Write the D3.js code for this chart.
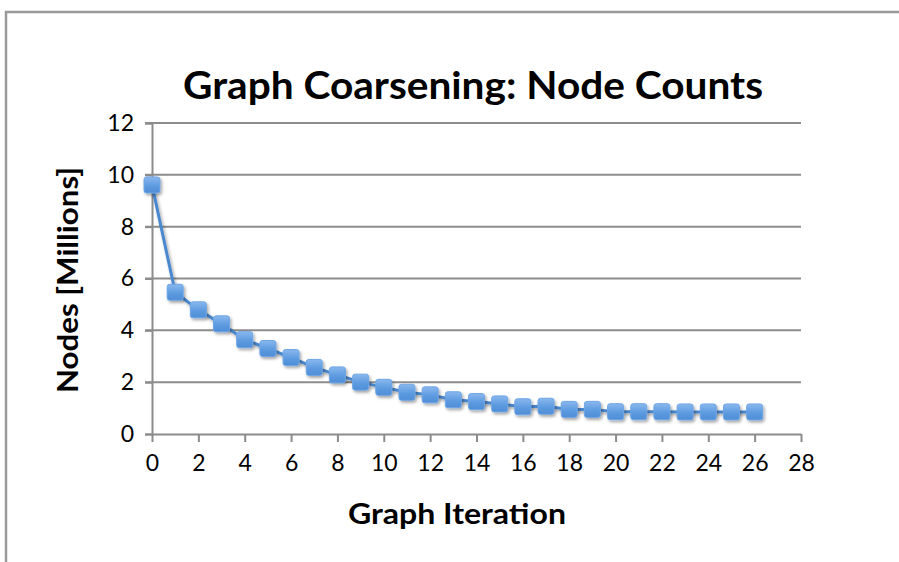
<!DOCTYPE html>
<html>
<head>
<meta charset="utf-8">
<script src="https://cdn.jsdelivr.net/npm/d3@7"></script>
<style>
  html, body { margin: 0; padding: 0; background: #fff; }
  svg { display: block; }
  text { font-family: Lato, "Open Sans", sans-serif; fill: #000; }
</style>
</head>
<body>
<svg id="chart" width="899" height="562"></svg>
<script>
// Node counts (millions) per coarsening iteration
const iterations = d3.range(0, 27);
const nodeCounts = [9.61, 5.47, 4.79, 4.25, 3.64, 3.30, 2.95, 2.57, 2.28, 2.00,
                    1.80, 1.61, 1.51, 1.32, 1.25, 1.16, 1.05, 1.07, 0.95, 0.95,
                    0.86, 0.86, 0.86, 0.85, 0.85, 0.85, 0.85];
const xTicks = d3.range(0, 29, 2);
const yTicks = [0, 2, 4, 6, 8, 10, 12];

const chartTitle = "Graph Coarsening: Node Counts";
const xTitle = "Graph Iteration";
const yTitle = "Nodes [Millions]";

const svg = d3.select("#chart");
const W = 899, H = 562;
const margin = { left: 152, right: 98, top: 123, bottom: 128 };

const x = d3.scaleLinear().domain([0, 28]).range([margin.left, W - margin.right]);
const y = d3.scaleLinear().domain([0, 12]).range([H - margin.bottom, margin.top]);

// Outer frame
svg.append("path")
  .attr("d", `M6,${H + 2} L6,12 L${W + 2},12`)
  .attr("fill", "none").attr("stroke", "#9a9a9a").attr("stroke-width", 2.5);

const defs = svg.append("defs");
const grad = defs.append("linearGradient").attr("id", "mk").attr("x1", 0).attr("y1", 0).attr("x2", 0).attr("y2", 1);
grad.append("stop").attr("offset", "0%").attr("stop-color", "#8ab8ee");
grad.append("stop").attr("offset", "55%").attr("stop-color", "#5d9be0");
grad.append("stop").attr("offset", "100%").attr("stop-color", "#4f8dd6");
const sh = defs.append("filter").attr("id", "sh").attr("x", "-50%").attr("y", "-50%").attr("width", "200%").attr("height", "200%");
sh.append("feDropShadow").attr("dx", 1.5).attr("dy", 2).attr("stdDeviation", 1.6)
  .attr("flood-color", "#000").attr("flood-opacity", 0.35);

// Horizontal gridlines (extend left as y ticks)
svg.append("g").selectAll("line").data(yTicks.filter(d => d > 0)).join("line")
  .attr("x1", x(0) - 7).attr("x2", x(28))
  .attr("y1", d => y(d)).attr("y2", d => y(d))
  .attr("stroke", "#8c8c8c").attr("stroke-width", 2);

// Y axis
const yAxis = svg.append("g").attr("transform", `translate(${x(0)},0)`)
  .call(d3.axisLeft(y).tickValues(yTicks).tickSize(7).tickPadding(11));
yAxis.select(".domain").attr("stroke", "#8c8c8c").attr("stroke-width", 2);
yAxis.selectAll(".tick line").attr("stroke", "#8c8c8c").attr("stroke-width", 2);
yAxis.selectAll(".tick text").attr("font-size", 23).attr("font-family", "Lato, sans-serif").attr("fill", "#000");

// X axis
const xAxis = svg.append("g").attr("transform", `translate(0,${y(0)})`)
  .call(d3.axisBottom(x).tickValues(xTicks).tickSize(8).tickSizeOuter(0).tickPadding(13));
xAxis.select(".domain").attr("stroke", "#8c8c8c").attr("stroke-width", 2);
xAxis.selectAll(".tick line").attr("stroke", "#8c8c8c").attr("stroke-width", 2);
xAxis.selectAll(".tick text").attr("font-size", 23).attr("font-family", "Lato, sans-serif").attr("fill", "#000");

// Series line
const pts = iterations.map((it, i) => [it, nodeCounts[i]]);
svg.append("path").datum(pts)
  .attr("d", d3.line().x(d => x(d[0])).y(d => y(d[1])))
  .attr("fill", "none").attr("stroke", "#4a88cf").attr("stroke-width", 3)
  .attr("filter", "url(#sh)");

// Square markers
const s = 16;
svg.append("g").selectAll("rect").data(pts).join("rect")
  .attr("x", d => x(d[0]) - s / 2).attr("y", d => y(d[1]) - s / 2)
  .attr("width", s).attr("height", s).attr("rx", 2.5)
  .attr("fill", "url(#mk)").attr("stroke", "#6fa6e6").attr("stroke-width", 1)
  .attr("filter", "url(#sh)");

// Titles
svg.append("text").attr("x", 473).attr("y", 99).attr("text-anchor", "middle")
  .attr("font-size", 38).attr("font-weight", 700)
  .attr("textLength", 580).attr("lengthAdjust", "spacingAndGlyphs")
  .text(chartTitle);

svg.append("text").attr("x", 457).attr("y", 524).attr("text-anchor", "middle")
  .attr("font-size", 28).attr("font-weight", 700)
  .attr("textLength", 218).attr("lengthAdjust", "spacingAndGlyphs")
  .text(xTitle);

svg.append("text").attr("transform", "translate(78,280) rotate(-90)").attr("text-anchor", "middle")
  .attr("font-size", 28).attr("font-weight", 700)
  .attr("textLength", 226).attr("lengthAdjust", "spacingAndGlyphs")
  .text(yTitle);
</script>
</body>
</html>
